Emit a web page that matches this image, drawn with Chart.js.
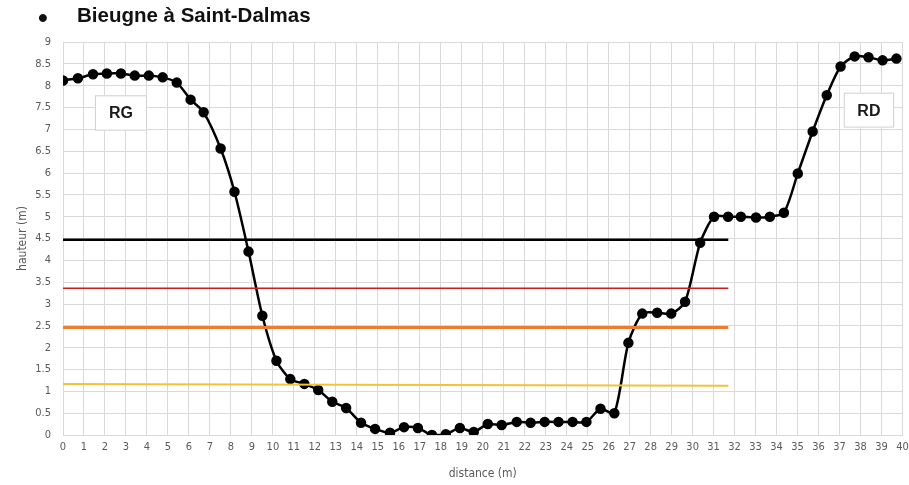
<!DOCTYPE html>
<html>
<head>
<meta charset="utf-8">
<script src="https://cdn.jsdelivr.net/npm/chart.js@4.4.1/dist/chart.umd.min.js"></script>
<style>
  html, body { margin: 0; padding: 0; background: #fff; }
  #wrap { position: relative; width: 909px; height: 485px; }
  #title {
    position: absolute; left: 77px; top: 5px;
    font: bold 20.5px "Liberation Sans", Arial, sans-serif; line-height: 1;
    color: #111;
  }
  #bullet {
    position: absolute; left: 38px; top: 4px;
    font: bold 28px "Liberation Sans", Arial, sans-serif; line-height: 1;
    color: #111;
  }
</style>
</head>
<body>
<div id="wrap">
  <span id="bullet">•</span>
  <div id="title">Bieugne à Saint-Dalmas</div>
  <canvas id="profil" width="909" height="485"></canvas>
</div>
<script>
// profil en travers (distance en m, hauteur en m)
const distances = [0, 0.71, 1.43, 2.09, 2.76, 3.42, 4.09, 4.75, 5.42, 6.08, 6.70, 7.51, 8.17, 8.84, 9.5,
  10.17, 10.83, 11.5, 12.16, 12.83, 13.49, 14.2, 14.87, 15.58, 16.25, 16.91, 17.58, 18.24, 18.91, 19.57,
  20.24, 20.9, 21.62, 22.28, 22.95, 23.61, 24.28, 24.94, 25.61, 26.27, 26.94, 27.6, 28.31, 28.98, 29.64,
  30.36, 31.02, 31.69, 32.3, 33.02, 33.68, 34.35, 35.01, 35.72, 36.39, 37.05, 37.72, 38.38, 39.05, 39.71];
const hauteurs = [8.12, 8.17, 8.26, 8.28, 8.28, 8.23, 8.23, 8.19, 8.07, 7.68, 7.39, 6.56, 5.57, 4.2, 2.73,
  1.7, 1.28, 1.17, 1.03, 0.76, 0.62, 0.28, 0.14, 0.05, 0.18, 0.16, 0, 0.02, 0.16, 0.07,
  0.25, 0.23, 0.3, 0.28, 0.3, 0.3, 0.3, 0.3, 0.6, 0.5, 2.11, 2.78, 2.8, 2.78, 3.05,
  4.4, 5.0, 5.0, 5.0, 4.98, 5.0, 5.09, 5.99, 6.95, 7.78, 8.44, 8.67, 8.65, 8.58, 8.62];

// niveaux d'eau (début / fin)
const niveauX = [0, 31.7];
const niveauNoir = [4.47, 4.47];
const niveauRouge = [3.36, 3.36];
const niveauOrange = [2.46, 2.46];
const niveauJaune = [1.17, 1.13];

const xTicksMax = 40;
const yTicksMax = 9;

// étiquettes des rives
const rives = [
  { text: 'RG', x0: 1.52, x1: 4.0, y0: 7.78, y1: 6.97 },
  { text: 'RD', x0: 37.2, x1: 39.6, y0: 7.84, y1: 7.04 }
];

function pairs(xs, ys) {
  return xs.map((x, i) => ({ x: x, y: ys[i] }));
}

function niveau(ys, color, width) {
  return {
    data: pairs(niveauX, ys),
    borderColor: color,
    borderWidth: width,
    pointRadius: 0,
    tension: 0
  };
}

const rivesPlugin = {
  id: 'rives',
  afterDatasetsDraw(chart) {
    const ctx = chart.ctx;
    const xs = chart.scales.x, ys = chart.scales.y;
    ctx.save();
    rives.forEach(r => {
      const l = xs.getPixelForValue(r.x0), rr = xs.getPixelForValue(r.x1);
      const t = ys.getPixelForValue(r.y0), b = ys.getPixelForValue(r.y1);
      ctx.fillStyle = '#fff';
      ctx.fillRect(l, t, rr - l, b - t);
      ctx.strokeStyle = '#d0d0d0';
      ctx.lineWidth = 1;
      ctx.strokeRect(l + 0.5, t + 0.5, rr - l - 1, b - t - 1);
      ctx.fillStyle = '#1a1a1a';
      ctx.font = 'bold 16px "Liberation Sans", Arial, sans-serif';
      ctx.textAlign = 'center';
      ctx.textBaseline = 'middle';
      ctx.fillText(r.text, (l + rr) / 2, (t + b) / 2 + 1);
    });
    ctx.restore();
  }
};

const tickFont = { family: '"Liberation Sans Narrow", "DejaVu Sans Condensed", "Open Sans", sans-serif', size: 11 };

new Chart(document.getElementById('profil'), {
  type: 'line',
  data: {
    datasets: [
      niveau(niveauJaune, '#f2c335', 2),
      niveau(niveauOrange, '#ed7d31', 3),
      niveau(niveauRouge, '#c81e1e', 1.5),
      niveau(niveauNoir, '#000', 2.5),
      {
        data: pairs(distances, hauteurs),
        borderColor: '#000',
        backgroundColor: '#000',
        borderWidth: 2.5,
        pointRadius: 4,
        pointHoverRadius: 4,
        tension: 0.25
      }
    ]
  },
  options: {
    responsive: false,
    animation: false,
    layout: { padding: { top: 42, right: 0, left: 0, bottom: 0 } },
    plugins: { legend: { display: false }, tooltip: { enabled: false } },
    scales: {
      x: {
        type: 'linear',
        min: 0,
        max: xTicksMax,
        ticks: { stepSize: 1, color: '#595959', font: tickFont, maxRotation: 0, autoSkip: false, padding: 6 },
        grid: { color: '#d9d9d9', drawTicks: false },
        border: { color: '#d9d9d9' },
        title: { display: true, text: 'distance (m)', color: '#595959', font: { family: tickFont.family, size: 12 }, padding: { top: 6 } },
        afterFit(scale) { scale.height = 50; scale.paddingRight = 6; scale.paddingLeft = 0; }
      },
      y: {
        min: 0,
        max: yTicksMax,
        ticks: { stepSize: 0.5, color: '#595959', font: tickFont, padding: 12, callback: v => String(v) },
        grid: { color: '#d9d9d9', drawTicks: false },
        border: { color: '#d9d9d9' },
        title: { display: true, text: 'hauteur (m)', color: '#595959', font: { family: tickFont.family, size: 12 }, padding: { top: 16, bottom: 0 } },
        afterFit(scale) { scale.width = 63; }
      }
    }
  },
  plugins: [rivesPlugin]
});
</script>
</body>
</html>
